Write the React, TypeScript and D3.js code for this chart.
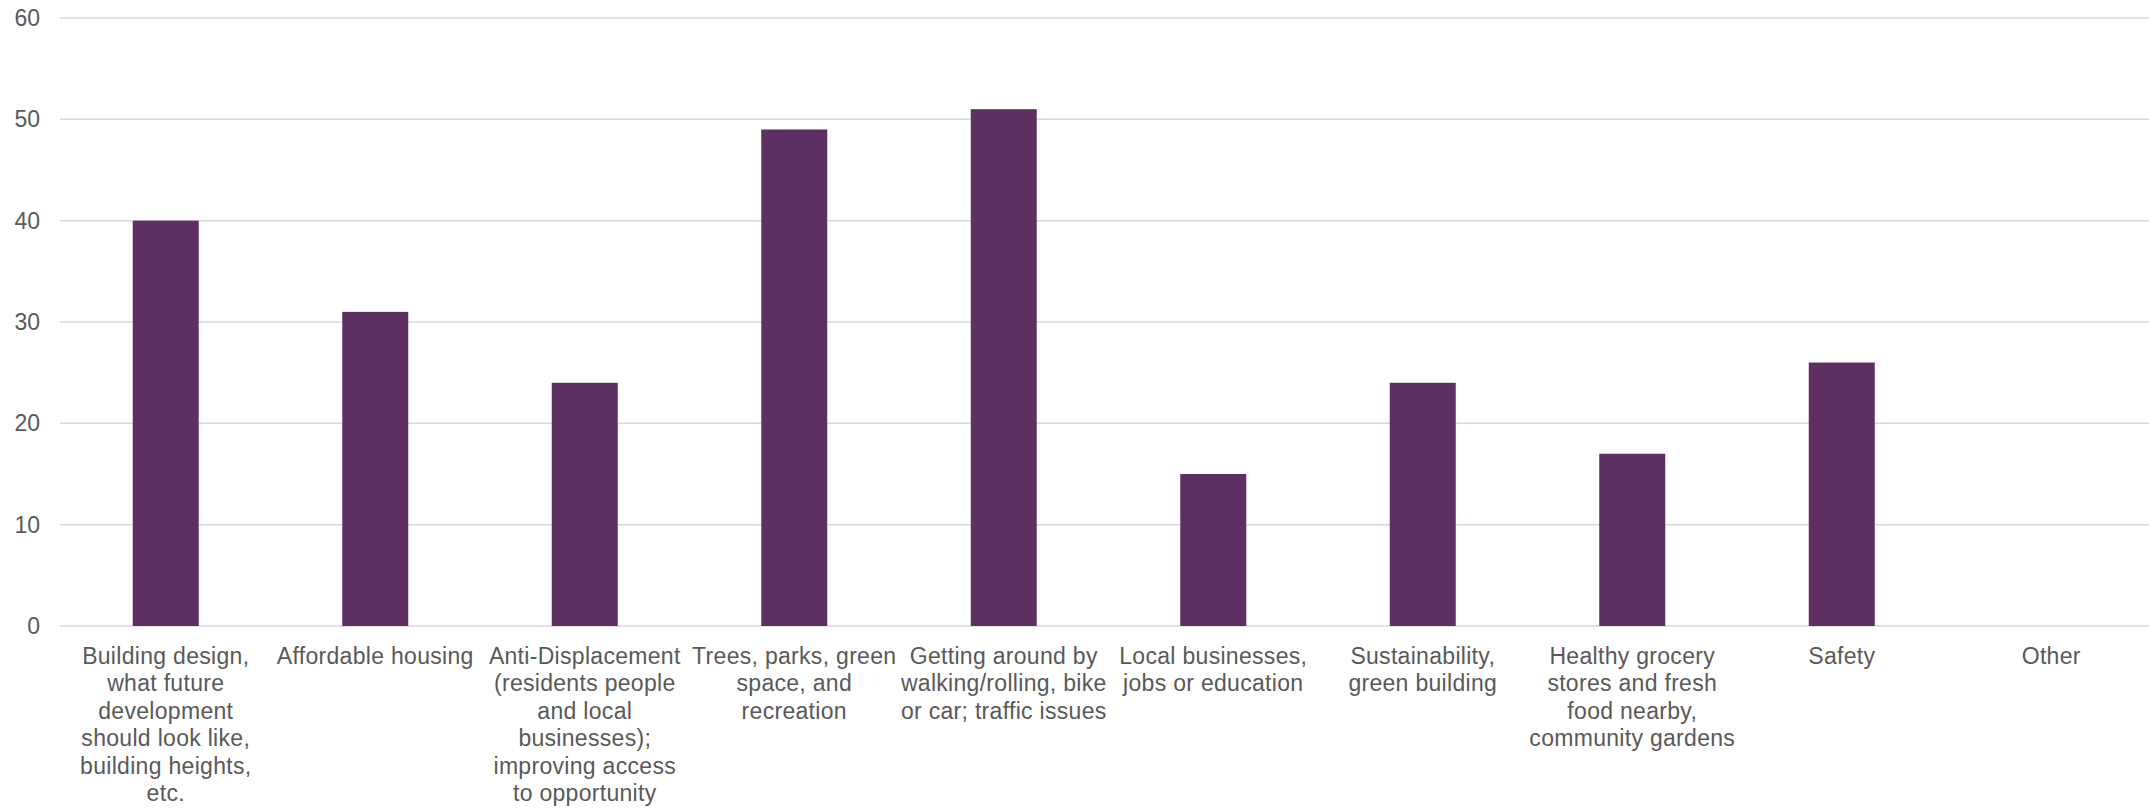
import React from "react";
import * as d3 from "d3";

const categories: string[] = [
  "Building design,\nwhat future\ndevelopment\nshould look like,\nbuilding heights,\netc.",
  "Affordable housing",
  "Anti-Displacement\n(residents people\nand local\nbusinesses);\nimproving access\nto opportunity",
  "Trees, parks, green\nspace, and\nrecreation",
  "Getting around by\nwalking/rolling, bike\nor car; traffic issues",
  "Local businesses,\njobs or education",
  "Sustainability,\ngreen building",
  "Healthy grocery\nstores and fresh\nfood nearby,\ncommunity gardens",
  "Safety",
  "Other",
];
const values: number[] = [40, 31, 24, 49, 51, 15, 24, 17, 26, 0];
const yTicks: number[] = [0, 10, 20, 30, 40, 50, 60];

const W = 2149;
const H = 808;
const left = 61;
const bandRight = 2156;
const gridRight = 2149;
const top = 18;
const bottom = 626;
const BAR = "#5e2f61";
const GRID = "#d9d9d9";
const TEXT = "#595959";
const FONT = "'Liberation Sans', Arial, sans-serif";

export default function App() {
  const x = d3
    .scaleBand<number>()
    .domain(d3.range(categories.length))
    .range([left, bandRight])
    .paddingInner(0.685)
    .paddingOuter(0.3425);
  const y = d3.scaleLinear().domain([0, 60]).range([bottom, top]);
  return (
    <svg width={W} height={H} style={{ position: "absolute", left: 0, top: 0, background: "#fff" }} fontFamily={FONT}>
      {yTicks.map((t) => (
        <g key={t}>
          <line x1={60} x2={gridRight} y1={y(t)} y2={y(t)} stroke={GRID} strokeWidth={1.5} />
          <text x={40} y={y(t)} dy="0.35em" textAnchor="end" fontSize={23} fill={TEXT}>
            {t}
          </text>
        </g>
      ))}
      {values.map((v, i) => (
        <rect key={i} x={x(i)} y={y(v)} width={x.bandwidth()} height={y(0) - y(v)} fill={BAR} />
      ))}
      {categories.map((c, i) => {
        const cx = (x(i) as number) + x.bandwidth() / 2;
        return (
          <text key={i} x={cx} y={664} textAnchor="middle" fontSize={23} letterSpacing={0.3} fill={TEXT}>
            {c.split("\n").map((ln, j) => (
              <tspan key={j} x={cx} dy={j === 0 ? 0 : 27.4}>
                {ln}
              </tspan>
            ))}
          </text>
        );
      })}
    </svg>
  );
}
